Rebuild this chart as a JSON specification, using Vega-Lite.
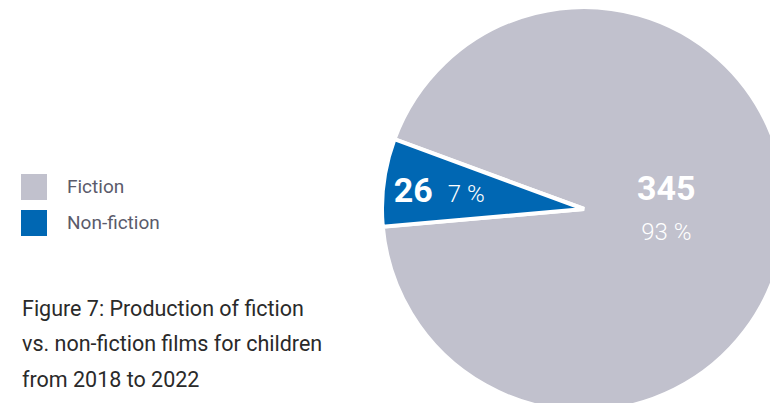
{
  "$schema": "https://vega.github.io/schema/vega-lite/v6.json",
  "width": 372,
  "height": 388,
  "autosize": {"type": "none"},
  "padding": {"left": 398, "top": 15, "right": 0, "bottom": 0},
  "background": "white",
  "config": {"view": {"stroke": null}, "font": "Roboto"},
  "title": {
    "text": ["Figure 7: Production of fiction", "vs. non-fiction films for children", "from 2018 to 2022"],
    "orient": "top",
    "anchor": "start",
    "frame": "group",
    "align": "left",
    "baseline": "alphabetic",
    "offset": 0,
    "dx": -376,
    "dy": 409,
    "font": "Roboto",
    "fontSize": 21.5,
    "fontWeight": "normal",
    "color": "#2a2a2a",
    "lineHeight": 35.5
  },
  "data": {
    "values": [
      {"type": "Fiction", "count": 345, "pct": "93 %"},
      {"type": "Non-fiction", "count": 26, "pct": "7 %"}
    ]
  },
  "encoding": {
    "theta": {"field": "count", "type": "quantitative", "stack": true, "scale": {"range": [-1.218, 5.065]}},
    "order": {"field": "type", "type": "nominal", "sort": "ascending"}
  },
  "layer": [
    {
      "mark": {"type": "arc", "outerRadius": 202, "stroke": "white", "strokeWidth": 4},
      "encoding": {
        "color": {
          "field": "type", "type": "nominal",
          "scale": {"domain": ["Fiction", "Non-fiction"], "range": ["#c1c1cd", "#0067b3"]},
          "legend": {
            "title": null,
            "orient": "none",
            "legendX": -377,
            "legendY": 159,
            "symbolType": "square",
            "symbolSize": 676,
            "symbolStrokeWidth": 0,
            "symbolOpacity": 1,
            "labelFont": "Roboto",
            "labelFontSize": 19,
            "labelColor": "#5b5b6b",
            "labelOffset": 20,
            "rowPadding": 10,
            "padding": 0,
            "labelBaseline": "middle",
            "encode": {"labels": {"update": {"dy": {"signal": "datum.index === 0 ? 5 : 1"}}}}
          }
        }
      }
    },
    {
      "mark": {"type": "text", "radius": 83, "dy": -20, "baseline": "alphabetic", "fontSize": 34, "fontWeight": "bold", "color": "white", "align": "center"},
      "encoding": {"text": {"condition": {"test": "datum.type === 'Fiction'", "field": "count", "type": "quantitative"}, "value": ""}}
    },
    {
      "mark": {"type": "text", "radius": 83, "dy": 20, "baseline": "alphabetic", "fontSize": 24, "fontWeight": 300, "color": "white", "align": "center"},
      "encoding": {"text": {"condition": {"test": "datum.type === 'Fiction'", "field": "pct", "type": "nominal"}, "value": ""}}
    },
    {
      "mark": {"type": "text", "radius": 150, "dx": -22, "dy": 13, "baseline": "alphabetic", "fontSize": 34, "fontWeight": "bold", "color": "white", "align": "center"},
      "encoding": {"text": {"condition": {"test": "datum.type === 'Non-fiction'", "field": "count", "type": "quantitative"}, "value": ""}}
    },
    {
      "mark": {"type": "text", "radius": 150, "dx": 31, "dy": 13, "baseline": "alphabetic", "fontSize": 24, "fontWeight": 300, "color": "white", "align": "center"},
      "encoding": {"text": {"condition": {"test": "datum.type === 'Non-fiction'", "field": "pct", "type": "nominal"}, "value": ""}}
    }
  ]
}
